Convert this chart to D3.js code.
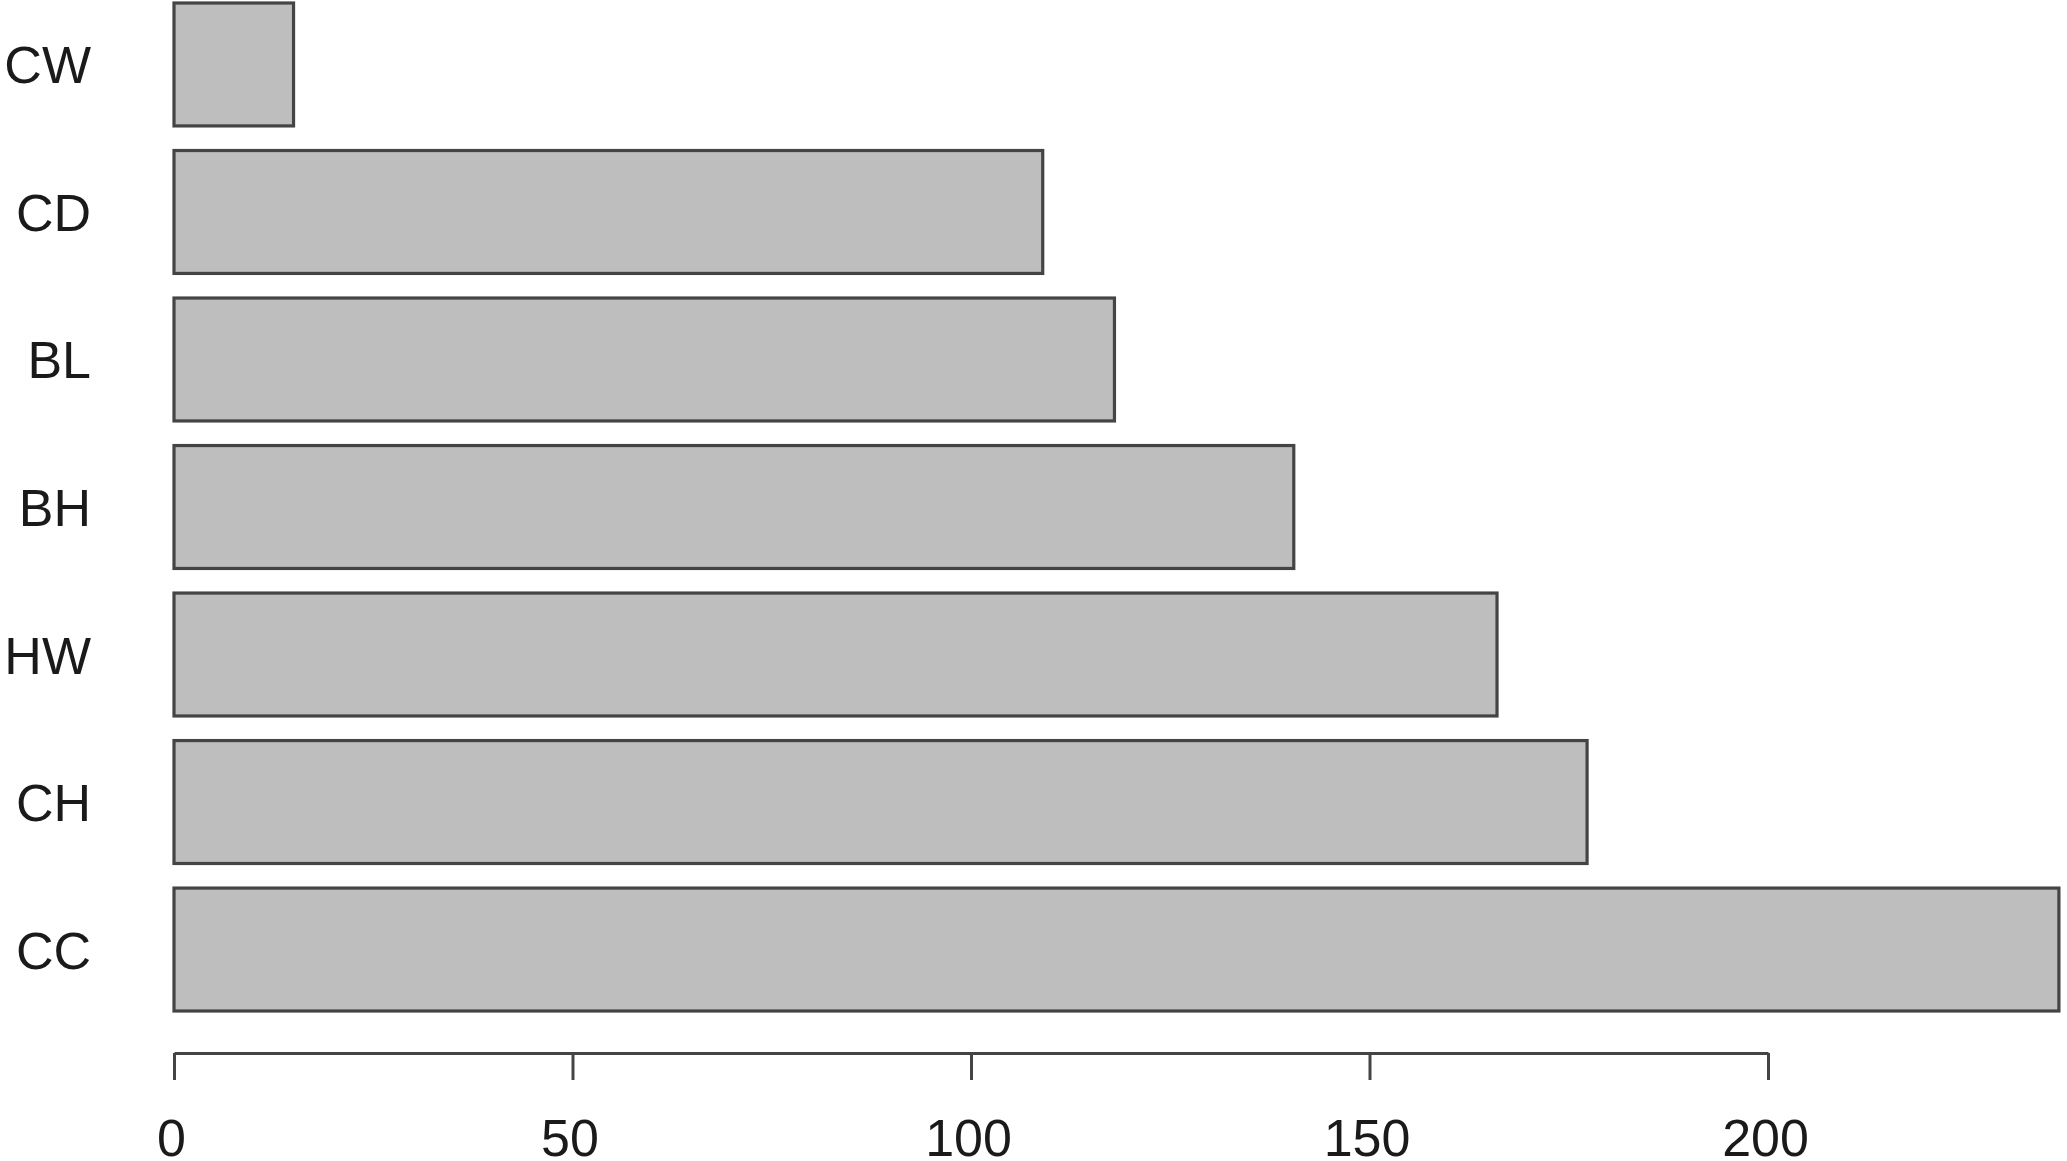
<!DOCTYPE html>
<html lang="en">
<head>
    <meta charset="UTF-8">
    <title>horizontal bars</title>
    <script src="https://d3js.org/d3.v7.min.js"></script>
<style>
    body{
        margin: 0;
        background: #fff;
    }
    .label{
        font-family: "Liberation Sans", Arial, sans-serif;
        font-size: 52px;
        fill: #1a1a1a;
    }
    .axis text{
        font-family: "Liberation Sans", Arial, sans-serif;
        font-size: 52px;
        fill: #1a1a1a;
    }
    .axis path, .axis line{
        stroke: #444;
        stroke-width: 3;
    }
</style>
</head>
<body>

<div id="fig"></div>
<script>
    // values, top bar first
    let categories = ["CW", "CD", "BL", "BH", "HW", "CH", "CC"]
    let values = [15, 109, 118, 140.5, 166, 177.3, 236.5]
    let tickValues = [0, 50, 100, 150, 200]

    let w = 2067, h = 1161
    let svg = d3.select("#fig").append("svg")
        .attr("width", w)
        .attr("height", h)

    // axis spans only 0..200, bars run past it
    let xScale = d3.scaleLinear().domain([0, 200]).range([174, 1768])
    let yScale = d3.scaleBand().domain(categories).range([3, 1011])
        .paddingInner(1/6).paddingOuter(0)

    svg.selectAll(".bar")
        .data(values)
        .enter()
        .append("rect")
        .attr("class", "bar")
        .attr("x", xScale(0))
        .attr("y", function (d, i) {return yScale(categories[i])})
        .attr("width", function (d) {return xScale(d) - xScale(0)})
        .attr("height", yScale.bandwidth())
        .attr("fill", "#bebebe")
        .attr("stroke", "#444")
        .attr("stroke-width", 3.2)

    svg.selectAll(".label")
        .data(categories)
        .enter()
        .append("text")
        .attr("class", "label")
        .attr("x", 91)
        .attr("y", function (d) {return yScale(d) + yScale.bandwidth() / 2 + 19})
        .attr("text-anchor", "end")
        .text(function (d) {return d})

    let x_axis = d3.axisBottom(xScale)
        .tickValues(tickValues)
        .tickSizeInner(27)
        .tickSizeOuter(0)
        .tickPadding(39)

    svg.append("g").attr("class", "axis")
        .attr("transform", `translate(0,${1053})`)
        .call(x_axis)
        .selectAll("text").attr("dx", -3)
</script>
</body>
</html>
